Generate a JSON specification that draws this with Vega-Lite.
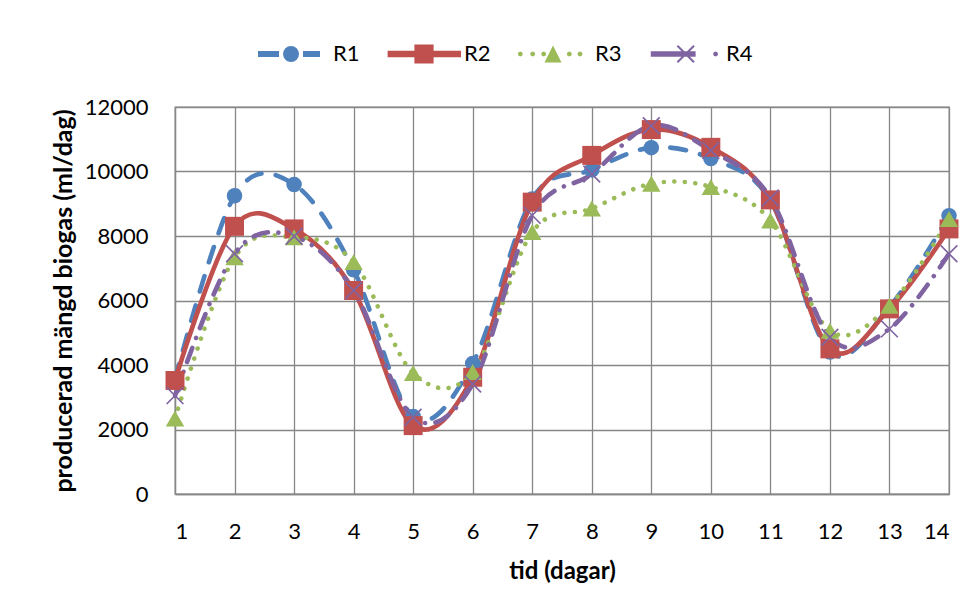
{
  "$schema": "https://vega.github.io/schema/vega-lite/v6.json",
  "width": 774,
  "height": 387,
  "autosize": {"type": "none"},
  "padding": {"left": 175, "top": 107, "right": 29, "bottom": 116},
  "background": "white",
  "config": {
    "font": "Lato",
    "view": {"stroke": "#878787", "strokeWidth": 1.3},
    "axis": {
      "grid": true,
      "gridColor": "#878787",
      "gridWidth": 1.3,
      "gridOpacity": 1,
      "ticks": false,
      "domainColor": "#878787",
      "domainWidth": 1.3,
      "labelFont": "Lato",
      "labelFontSize": 22,
      "labelColor": "#000000",
      "labelPadding": 27,
      "titleFont": "Lato",
      "titleFontSize": 24,
      "titleFontWeight": "bold",
      "titleColor": "#000000"
    }
  },
  "data": {
    "values": [
      {"dag": 1, "serie": "R1", "biogas": 3550},
      {"dag": 2, "serie": "R1", "biogas": 9250},
      {"dag": 3, "serie": "R1", "biogas": 9600},
      {"dag": 4, "serie": "R1", "biogas": 6950},
      {"dag": 5, "serie": "R1", "biogas": 2400},
      {"dag": 6, "serie": "R1", "biogas": 4050},
      {"dag": 7, "serie": "R1", "biogas": 9150},
      {"dag": 8, "serie": "R1", "biogas": 10050},
      {"dag": 9, "serie": "R1", "biogas": 10740},
      {"dag": 10, "serie": "R1", "biogas": 10400},
      {"dag": 11, "serie": "R1", "biogas": 9100},
      {"dag": 12, "serie": "R1", "biogas": 4400},
      {"dag": 13, "serie": "R1", "biogas": 5800},
      {"dag": 14, "serie": "R1", "biogas": 8630},
      {"dag": 1, "serie": "R2", "biogas": 3520},
      {"dag": 2, "serie": "R2", "biogas": 8300},
      {"dag": 3, "serie": "R2", "biogas": 8220},
      {"dag": 4, "serie": "R2", "biogas": 6310},
      {"dag": 5, "serie": "R2", "biogas": 2120},
      {"dag": 6, "serie": "R2", "biogas": 3620},
      {"dag": 7, "serie": "R2", "biogas": 9050},
      {"dag": 8, "serie": "R2", "biogas": 10500},
      {"dag": 9, "serie": "R2", "biogas": 11300},
      {"dag": 10, "serie": "R2", "biogas": 10750},
      {"dag": 11, "serie": "R2", "biogas": 9120},
      {"dag": 12, "serie": "R2", "biogas": 4500},
      {"dag": 13, "serie": "R2", "biogas": 5740},
      {"dag": 14, "serie": "R2", "biogas": 8220},
      {"dag": 1, "serie": "R3", "biogas": 2340},
      {"dag": 2, "serie": "R3", "biogas": 7340},
      {"dag": 3, "serie": "R3", "biogas": 7960},
      {"dag": 4, "serie": "R3", "biogas": 7190},
      {"dag": 5, "serie": "R3", "biogas": 3750},
      {"dag": 6, "serie": "R3", "biogas": 3780},
      {"dag": 7, "serie": "R3", "biogas": 8120},
      {"dag": 8, "serie": "R3", "biogas": 8850},
      {"dag": 9, "serie": "R3", "biogas": 9620},
      {"dag": 10, "serie": "R3", "biogas": 9520},
      {"dag": 11, "serie": "R3", "biogas": 8480},
      {"dag": 12, "serie": "R3", "biogas": 5060},
      {"dag": 13, "serie": "R3", "biogas": 5840},
      {"dag": 14, "serie": "R3", "biogas": 8530},
      {"dag": 1, "serie": "R4", "biogas": 3050},
      {"dag": 2, "serie": "R4", "biogas": 7450},
      {"dag": 3, "serie": "R4", "biogas": 7990},
      {"dag": 4, "serie": "R4", "biogas": 6310},
      {"dag": 5, "serie": "R4", "biogas": 2380},
      {"dag": 6, "serie": "R4", "biogas": 3410},
      {"dag": 7, "serie": "R4", "biogas": 8640},
      {"dag": 8, "serie": "R4", "biogas": 9920},
      {"dag": 9, "serie": "R4", "biogas": 11420},
      {"dag": 10, "serie": "R4", "biogas": 10650},
      {"dag": 11, "serie": "R4", "biogas": 9180},
      {"dag": 12, "serie": "R4", "biogas": 4860},
      {"dag": 13, "serie": "R4", "biogas": 5120},
      {"dag": 14, "serie": "R4", "biogas": 7450}
    ]
  },
  "encoding": {
    "x": {
      "field": "dag",
      "type": "quantitative",
      "scale": {"domain": [1, 14], "nice": false, "zero": false},
      "axis": {"values": [1, 2, 3, 4, 5, 6, 7, 8, 9, 10, 11, 12, 13, 14], "title": "tid (dagar)", "titlePadding": 17}
    },
    "y": {
      "field": "biogas",
      "type": "quantitative",
      "scale": {"domain": [0, 12000], "nice": false},
      "axis": {"values": [0, 2000, 4000, 6000, 8000, 10000, 12000], "format": "d", "title": "producerad mängd biogas (ml/dag)", "titlePadding": 8, "titleFontSize": 25}
    },
    "color": {
      "field": "serie",
      "type": "nominal",
      "scale": {"domain": ["R1", "R2", "R3", "R4"], "range": ["#4F81BD", "#C0504D", "#9BBB59", "#8064A2"]},
      "legend": {
        "orient": "none",
        "legendX": 76,
        "legendY": -93,
        "direction": "horizontal",
        "title": null,
        "padding": 0,
        "symbolSize": 6400,
        "symbolStrokeWidth": 0,
        "labelFont": "Lato",
        "labelFontSize": 22,
        "labelColor": "#000000",
        "labelOffset": 2,
        "columnPadding": 22,
        "encode": {
          "symbols": {
            "update": {
              "shape": {"signal": "datum.value === 'R1' ? 'M-0.825,-0.075L-0.3,-0.075L-0.3,0.075L-0.825,0.075ZM0.3,-0.075L0.725,-0.075L0.725,0.075L0.3,0.075ZM0.2,0L0.1848,0.0765L0.1414,0.1414L0.0765,0.1848L0,0.2L-0.0765,0.1848L-0.1414,0.1414L-0.1848,0.0765L-0.2,0L-0.1848,-0.0765L-0.1414,-0.1414L-0.0765,-0.1848L0,-0.2L0.0765,-0.1848L0.1414,-0.1414L0.1848,-0.0765Z' : datum.value === 'R2' ? 'M-0.86,-0.08L0.975,-0.08L0.975,0.08L-0.86,0.08ZM-0.19,-0.24L0.29,-0.24L0.29,0.24L-0.19,0.24Z' : datum.value === 'R3' ? 'M0,-0.2125L0.2125,0.2125L-0.2125,0.2125ZM-0.755,0L-0.7733,0.0442L-0.8175,0.0625L-0.8617,0.0442L-0.88,0L-0.8617,-0.0442L-0.8175,-0.0625L-0.7733,-0.0442ZM-0.445,0L-0.4633,0.0442L-0.5075,0.0625L-0.5517,0.0442L-0.57,0L-0.5517,-0.0442L-0.5075,-0.0625L-0.4633,-0.0442ZM-0.17,0L-0.1883,0.0442L-0.2325,0.0625L-0.2767,0.0442L-0.295,0L-0.2767,-0.0442L-0.2325,-0.0625L-0.1883,-0.0442ZM0.47,0L0.4517,0.0442L0.4075,0.0625L0.3633,0.0442L0.345,0L0.3633,-0.0442L0.4075,-0.0625L0.4517,-0.0442ZM0.7375,0L0.7192,0.0442L0.675,0.0625L0.6308,0.0442L0.6125,0L0.6308,-0.0442L0.675,-0.0625L0.7192,-0.0442Z' : 'M-0.83,-0.07L0.29,-0.07L0.29,0.07L-0.83,0.07ZM-0.1825,-0.19L-0.1475,-0.225L0.2675,0.19L0.2325,0.225ZM-0.1825,0.19L0.2325,-0.225L0.2675,-0.19L-0.1475,0.225ZM0.8525,0L0.8342,0.0442L0.79,0.0625L0.7458,0.0442L0.7275,0L0.7458,-0.0442L0.79,-0.0625L0.8342,-0.0442Z'"},
              "size": {"value": 6400},
              "fill": {"scale": "color", "field": "value"},
              "fillOpacity": {"value": 1},
              "opacity": {"value": 1},
              "stroke": {"value": "transparent"},
              "strokeWidth": {"value": 0}
            }
          }
        }
      }
    }
  },
  "layer": [
    {
      "transform": [{"filter": "datum.serie === 'R1'"}],
      "mark": {"type": "line", "interpolate": "cardinal", "tension": 0, "strokeWidth": 4.6, "strokeCap": "round", "strokeJoin": "round", "strokeDash": [16, 14.5]}
    },
    {
      "transform": [{"filter": "datum.serie === 'R2'"}],
      "mark": {"type": "line", "interpolate": "cardinal", "tension": 0, "strokeWidth": 4.6, "strokeCap": "round", "strokeJoin": "round"}
    },
    {
      "transform": [{"filter": "datum.serie === 'R3'"}],
      "mark": {"type": "line", "interpolate": "cardinal", "tension": 0, "strokeWidth": 4.6, "strokeCap": "round", "strokeJoin": "round", "strokeDash": [0.01, 10.5]}
    },
    {
      "transform": [{"filter": "datum.serie === 'R4'"}],
      "mark": {"type": "line", "interpolate": "cardinal", "tension": 0, "strokeWidth": 4.6, "strokeCap": "round", "strokeJoin": "round", "strokeDash": [15, 10.5, 0.01, 10.5]}
    },
    {
      "transform": [{"filter": "datum.serie === 'R1'"}],
      "mark": {"type": "point", "shape": "circle", "filled": true, "opacity": 1, "size": 240}
    },
    {
      "transform": [{"filter": "datum.serie === 'R2'"}],
      "mark": {"type": "point", "shape": "square", "filled": true, "opacity": 1, "size": 360}
    },
    {
      "transform": [{"filter": "datum.serie === 'R3'"}],
      "mark": {"type": "point", "shape": "triangle-up", "filled": true, "opacity": 1, "size": 340}
    },
    {
      "transform": [{"filter": "datum.serie === 'R4'"}],
      "mark": {"type": "point", "shape": "M-1,-1L1,1M-1,1L1,-1", "filled": false, "opacity": 1, "size": 280, "strokeWidth": 1.7}
    }
  ]
}
